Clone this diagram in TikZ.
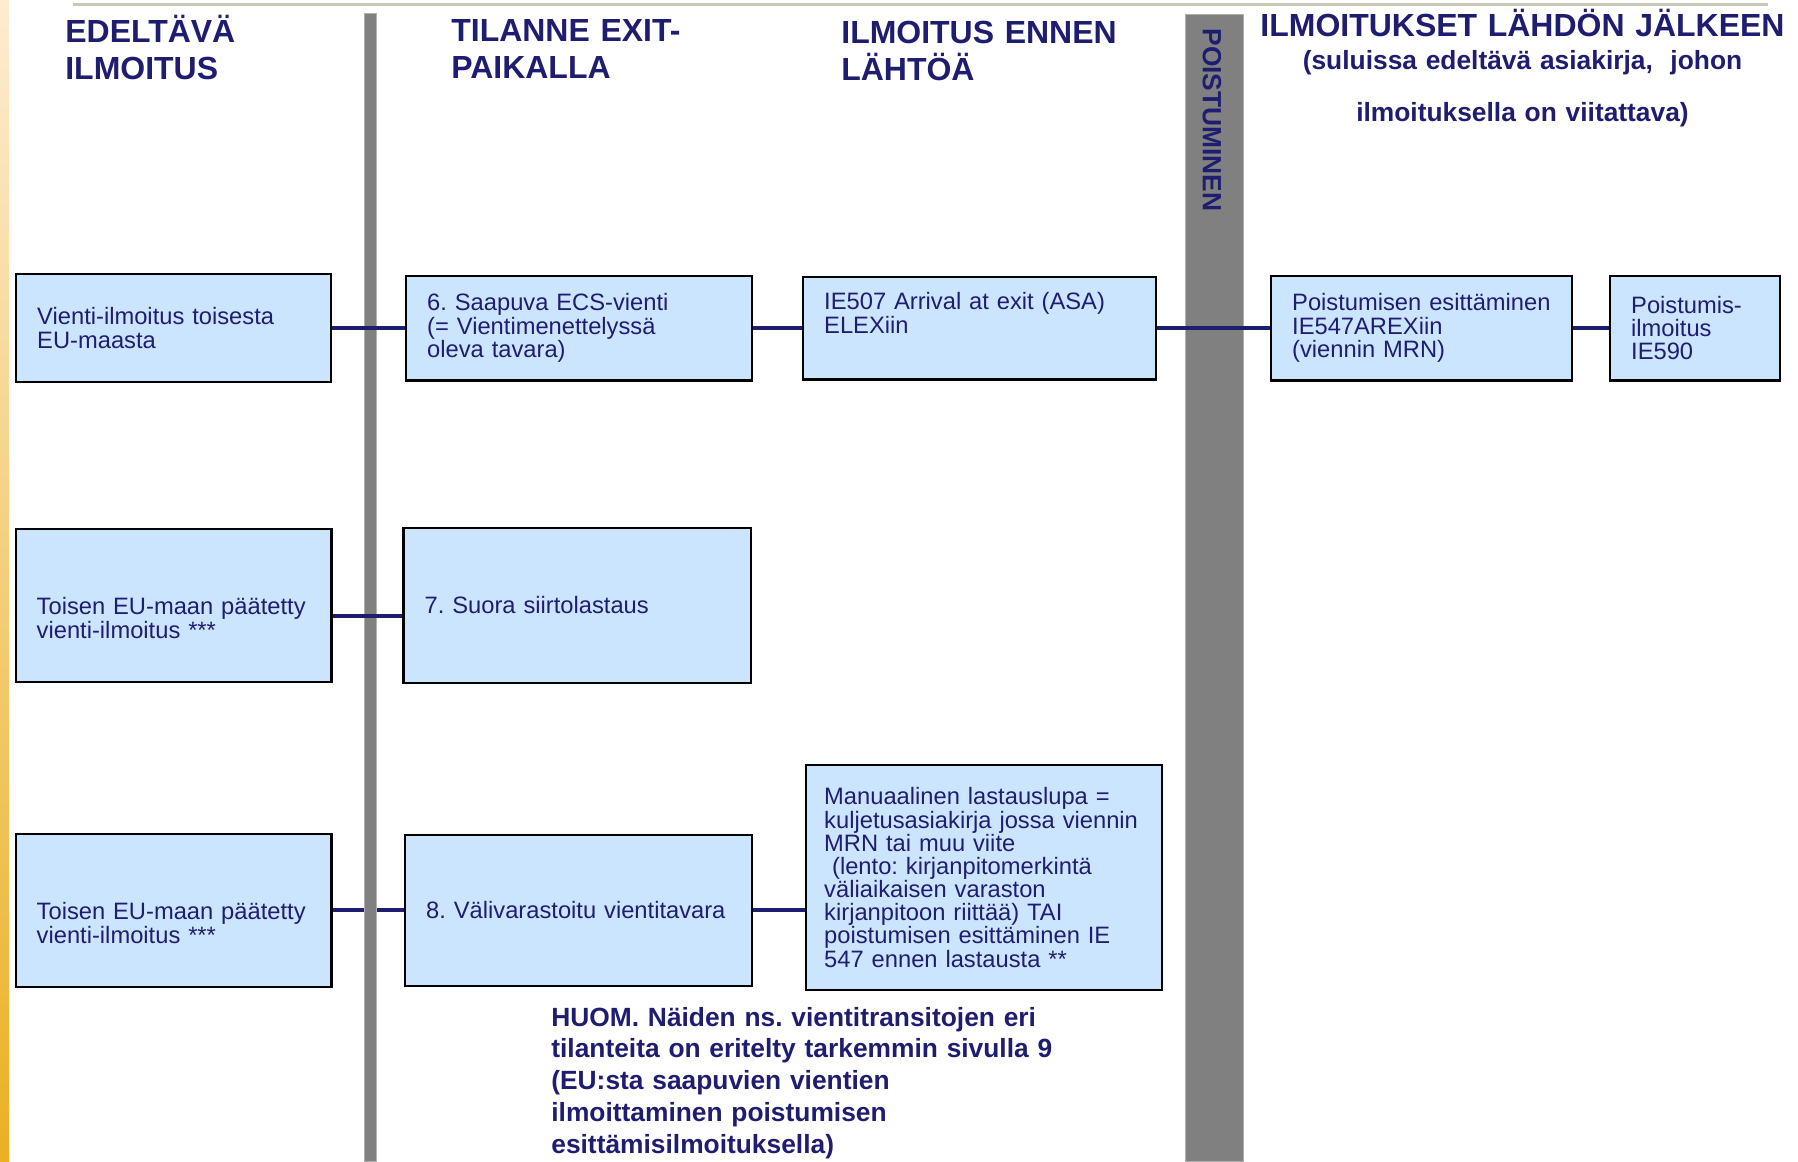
\documentclass[tikz,border=0pt]{standalone}
\usepackage{fontspec}
\setmainfont{Liberation Sans}
\usepackage{tikz}
\usetikzlibrary{positioning}
\definecolor{tummansininen}{RGB}{31,29,112}
\definecolor{laatikko}{RGB}{204,229,255}
\definecolor{harmaa}{RGB}{128,128,128}
\definecolor{harmaareuna}{RGB}{176,176,176}
\definecolor{ylaviiva}{RGB}{200,200,184}
\definecolor{raitaylos}{RGB}{253,236,208}
\definecolor{raitaalas}{RGB}{235,176,35}
\newcommand{\ilmofont}{\fontsize{13.5}{13.2}\selectfont}
\newcommand{\otsikkofont}{\fontsize{18.2}{21.6}\selectfont\bfseries}
\newcommand{\huomfont}{\fontsize{15}{18.2}\selectfont\bfseries}
\frenchspacing

\begin{document}
\begin{tikzpicture}[x=0.02cm, y=-0.02cm,
  ilmo/.style 2 args={draw=black, line width=1.4pt, fill=laatikko, text=tummansininen,
    font=\ilmofont, align=left, inner xsep=0.42cm, inner ysep=0pt,
    text width={#1*0.02cm-0.84cm-1.4pt}, minimum height={#2*0.02cm-1.4pt}},
  otsikko/.style={text=tummansininen, font=\otsikkofont, inner sep=0pt, align=left,
    text width=9cm, anchor=base west},
  yhteys/.style={tummansininen, line width=2.3pt},
  palkki/.style={fill=harmaa, draw=harmaareuna, line width=0.5pt},
 ]
\useasboundingbox (0,0) rectangle (1798,1161);

\shade[top color=raitaylos, bottom color=raitaalas] (0,0) rectangle (9,1161);
\draw[ylaviiva, line width=1.7pt] (73,4) -- (1768,4);

\node[otsikko] (ede) at (65,42) {EDELTÄVÄ\\ILMOITUS};
\node[otsikko] (tilanne) at (451,41) {TILANNE EXIT-\\PAIKALLA};
\node[otsikko] (ennen) at (841,43) {ILMOITUS ENNEN\\LÄHTÖÄ};
\node[otsikko, text width=12cm, align=center, anchor=base] (jalkeen) at (1522.5,36) {ILMOITUKSET LÄHDÖN JÄLKEEN};
\node[otsikko, font=\fontsize{15}{29.6}\selectfont\bfseries, text width=12cm, align=center, anchor=base] (suluissa) at (1522.5,69)
  {(suluissa edeltävä asiakirja,\ \ johon\\ilmoituksella on viitattava)};

\node[ilmo={317}{110}, anchor=north west] (V1) at (15,273) {Vienti-ilmoitus toisesta\\EU-maasta};
\node[ilmo={348}{107}, right=1.46cm of V1] (S6) {6. Saapuva ECS-vienti\\(= Vientimenettelyssä\\oleva tavara)};
\node[ilmo={355}{105}, right=0.98cm of S6] (IE507) {IE507 Arrival at exit (ASA)\\ELEXiin\\\strut};
\node[ilmo={303}{107}, right=2.26cm of IE507] (PE) {Poistumisen esittäminen\\IE547AREXiin\\(viennin MRN)};
\node[ilmo={172}{107}, right=0.72cm of PE] (PI) {Poistumis-\\ilmoitus\\IE590};

\node[ilmo={318}{155}, below=2.9cm of V1] (T1) {\strut\\Toisen EU-maan päätetty\\vienti-ilmoitus ***};
\node[ilmo={350}{157}, right=1.4cm of T1] (S7) {7. Suora siirtolastaus};

\node[ilmo={318}{155}, below=3cm of T1] (T2) {\strut\\Toisen EU-maan päätetty\\vienti-ilmoitus ***};
\node[ilmo={349}{153}, right=1.43cm of T2] (S8) {8. Välivarastoitu vientitavara};
\node[ilmo={358}{227}, inner xsep=0.36cm, text width={358*0.02cm-0.72cm-1.4pt}, anchor=north west] (MAN) at (805,764)
  {Manuaalinen lastauslupa =\\kuljetusasiakirja jossa viennin\\MRN tai muu viite\\~(lento: kirjanpitomerkintä\\väliaikaisen varaston\\kirjanpitoon riittää) TAI\\poistumisen esittäminen IE\\547 ennen lastausta **};

\node[otsikko, font=\huomfont, text width=12cm] (huom) at (551,1026) {HUOM. Näiden ns. vientitransitojen eri\\tilanteita on eritelty tarkemmin sivulla 9\\(EU:sta saapuvien vientien\\ilmoittaminen poistumisen\\esittämisilmoituksella)};

\path[yhteys] (T2) edge (S8);

\draw[palkki] (364,13) rectangle (376,1161);
\draw[palkki] (1185,14) rectangle (1243,1161);
\node[text=tummansininen, font=\huomfont, rotate=-90, inner sep=0pt] (poist) at (1212,120) {POISTUMINEN};

\path[yhteys]
(V1) edge (S6)
(S6) edge (IE507)
(IE507) edge (PE)
(PE) edge (PI)
([yshift=-0.21cm]T1.east) edge ([yshift=-0.21cm]S7.west)
(S8.east) edge (S8.east -| MAN.west);

\end{tikzpicture}
\end{document}
